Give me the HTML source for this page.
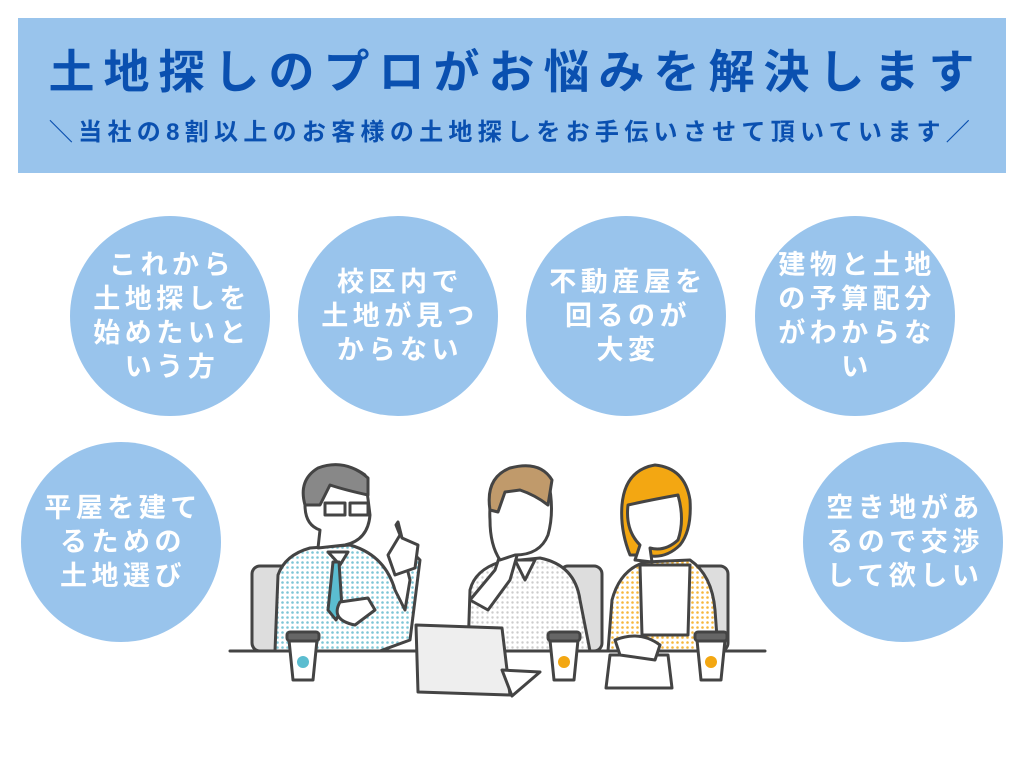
<!DOCTYPE html>
<html><head><meta charset="utf-8"><style>
html,body{margin:0;padding:0;background:#fff;}
body{width:1024px;height:768px;position:relative;overflow:hidden;font-family:"Liberation Sans","Noto Sans CJK JP",sans-serif;}
.banner{position:absolute;left:18px;top:18px;width:988px;height:155px;background:#99c4ec;}
.t1{position:absolute;left:0;width:1024px;top:42px;text-align:center;font-size:46px;font-weight:bold;color:#0a50b0;letter-spacing:9px;line-height:60px;padding-left:4px;}
.t2{position:absolute;left:0;width:1024px;top:116px;text-align:center;font-size:24px;font-weight:bold;color:#0a50b0;letter-spacing:5.3px;line-height:34px;}
.c{position:absolute;width:200px;height:200px;border-radius:50%;background:#99c4ec;color:#fff;font-weight:bold;font-size:27px;letter-spacing:4.5px;line-height:34px;display:flex;align-items:center;justify-content:center;text-align:center;}
.c span{display:block;padding-left:4px;}
</style></head><body>
<div class="banner"></div>
<div class="t1">土地探しのプロがお悩みを解決します</div>
<div class="t2">＼当社の8割以上のお客様の土地探しをお手伝いさせて頂いています／</div>

<div class="c" style="left:70px;top:216px"><span>これから<br>土地探しを<br>始めたいと<br>いう方</span></div>
<div class="c" style="left:298px;top:216px"><span>校区内で<br>土地が見つ<br>からない</span></div>
<div class="c" style="left:526px;top:216px"><span>不動産屋を<br>回るのが<br>大変</span></div>
<div class="c" style="left:755px;top:216px"><span>建物と土地<br>の予算配分<br>がわからな<br>い</span></div>
<div class="c" style="left:21px;top:442px"><span>平屋を建て<br>るための<br>土地選び</span></div>
<div class="c" style="left:803px;top:442px"><span>空き地があ<br>るので交渉<br>して欲しい</span></div>

<svg style="position:absolute;left:0;top:0" width="1024" height="768" viewBox="0 0 1024 768">
<defs>
<pattern id="pb" width="5" height="5" patternUnits="userSpaceOnUse"><rect width="5" height="5" fill="#fff"/><circle cx="2.5" cy="2.5" r="1.3" fill="#7cc6d6"/></pattern>
<pattern id="po" width="5" height="5" patternUnits="userSpaceOnUse"><rect width="5" height="5" fill="#fff"/><circle cx="2.5" cy="2.5" r="1.3" fill="#f6b73c"/></pattern>
<pattern id="pg" width="5" height="5" patternUnits="userSpaceOnUse"><rect width="5" height="5" fill="#fff"/><circle cx="2.5" cy="2.5" r="1.2" fill="#ccc"/></pattern>
</defs>
<g stroke="#444" stroke-width="3" stroke-linejoin="round" stroke-linecap="round">
<rect x="252" y="566" width="40" height="85" rx="8" fill="#ddd"/>
<rect x="560" y="566" width="42" height="85" rx="8" fill="#ddd"/>
<rect x="686" y="566" width="42" height="85" rx="8" fill="#ddd"/>
<path d="M275 651 L278 575 Q285 555 310 548 L350 545 Q385 555 395 590 L405 610 L410 580 L400 540 L420 560 L410 640 L380 651 Z" fill="url(#pb)"/>
<path d="M328 552 L340 565 L348 552 Z" fill="#fff"/>
<path d="M333 562 L328 610 L336 620 L342 608 L339 562 Z" fill="#5bbdd0"/>
<path d="M340 602 Q330 620 355 625 L375 610 L368 598 Z" fill="#fff"/>
<path d="M400 535 L396 525 L398 522 L402 538 L418 545 L415 568 L395 575 L388 555 Z" fill="#fff"/>
<path d="M318 548 L320 530 Q305 525 305 505 Q302 480 320 470 Q345 460 365 475 L370 515 Q368 540 345 545 Z" fill="#fff"/>
<path d="M305 505 Q298 480 318 468 Q345 458 368 478 L368 495 Q345 490 330 485 L320 505 Z" fill="#888"/>
<rect x="325" y="503" width="20" height="12" fill="none"/><rect x="350" y="503" width="18" height="12" fill="none"/>
<path d="M468 651 L470 590 Q475 570 500 562 L540 558 Q575 565 580 600 L590 651 Z" fill="url(#pg)"/>
<path d="M515 560 L525 580 L535 560 Z" fill="#fff"/>
<path d="M470 600 L495 570 L505 540 L520 545 L510 580 L488 610 Z" fill="#fff"/>
<path d="M500 560 Q490 545 490 520 Q488 490 505 478 Q530 468 548 480 Q555 510 548 535 Q540 555 515 555 Z" fill="#fff"/>
<path d="M490 510 Q485 478 510 468 Q540 460 552 480 L548 505 Q535 495 520 490 L505 492 L498 512 Z" fill="#c09a6b"/>
<path d="M608 651 L612 600 Q620 570 645 562 L690 560 Q712 575 715 610 L718 651 Z" fill="url(#po)"/>
<path d="M640 565 L642 635 L688 635 L690 565 Z" fill="#fff"/>
<path d="M630 555 Q620 530 622 505 Q625 470 655 465 Q685 468 690 500 Q692 530 680 545 Q665 560 645 555 Z" fill="#f3a712"/>
<path d="M635 560 L640 545 Q625 530 628 505 Q650 500 678 495 Q685 520 678 540 Q665 552 650 548 L652 562 Z" fill="#fff"/>
<line x1="230" y1="651" x2="765" y2="651"/>
<path d="M416 625 L502 628 L510 695 L418 692 Z" fill="#eee"/>
<path d="M502 670 L540 672 L512 696 Z" fill="#fff"/>
<path d="M610 655 L668 655 L672 688 L606 688 Z" fill="#fff"/>
<path d="M615 640 Q640 630 660 645 L655 660 L620 655 Z" fill="#fff"/>
<path d="M289 640 L317 640 L313 680 L293 680 Z" fill="#fff"/><rect x="287" y="632" width="32" height="9" rx="3" fill="#666"/><circle cx="303" cy="662" r="6" fill="#5bbdd0" stroke="none"/>
<path d="M550 640 L578 640 L574 680 L554 680 Z" fill="#fff"/><rect x="548" y="632" width="32" height="9" rx="3" fill="#666"/><circle cx="564" cy="662" r="6" fill="#f3a712" stroke="none"/>
<path d="M697 640 L725 640 L721 680 L701 680 Z" fill="#fff"/><rect x="695" y="632" width="32" height="9" rx="3" fill="#666"/><circle cx="711" cy="662" r="6" fill="#f3a712" stroke="none"/>
</g>
</svg>
</body></html>
